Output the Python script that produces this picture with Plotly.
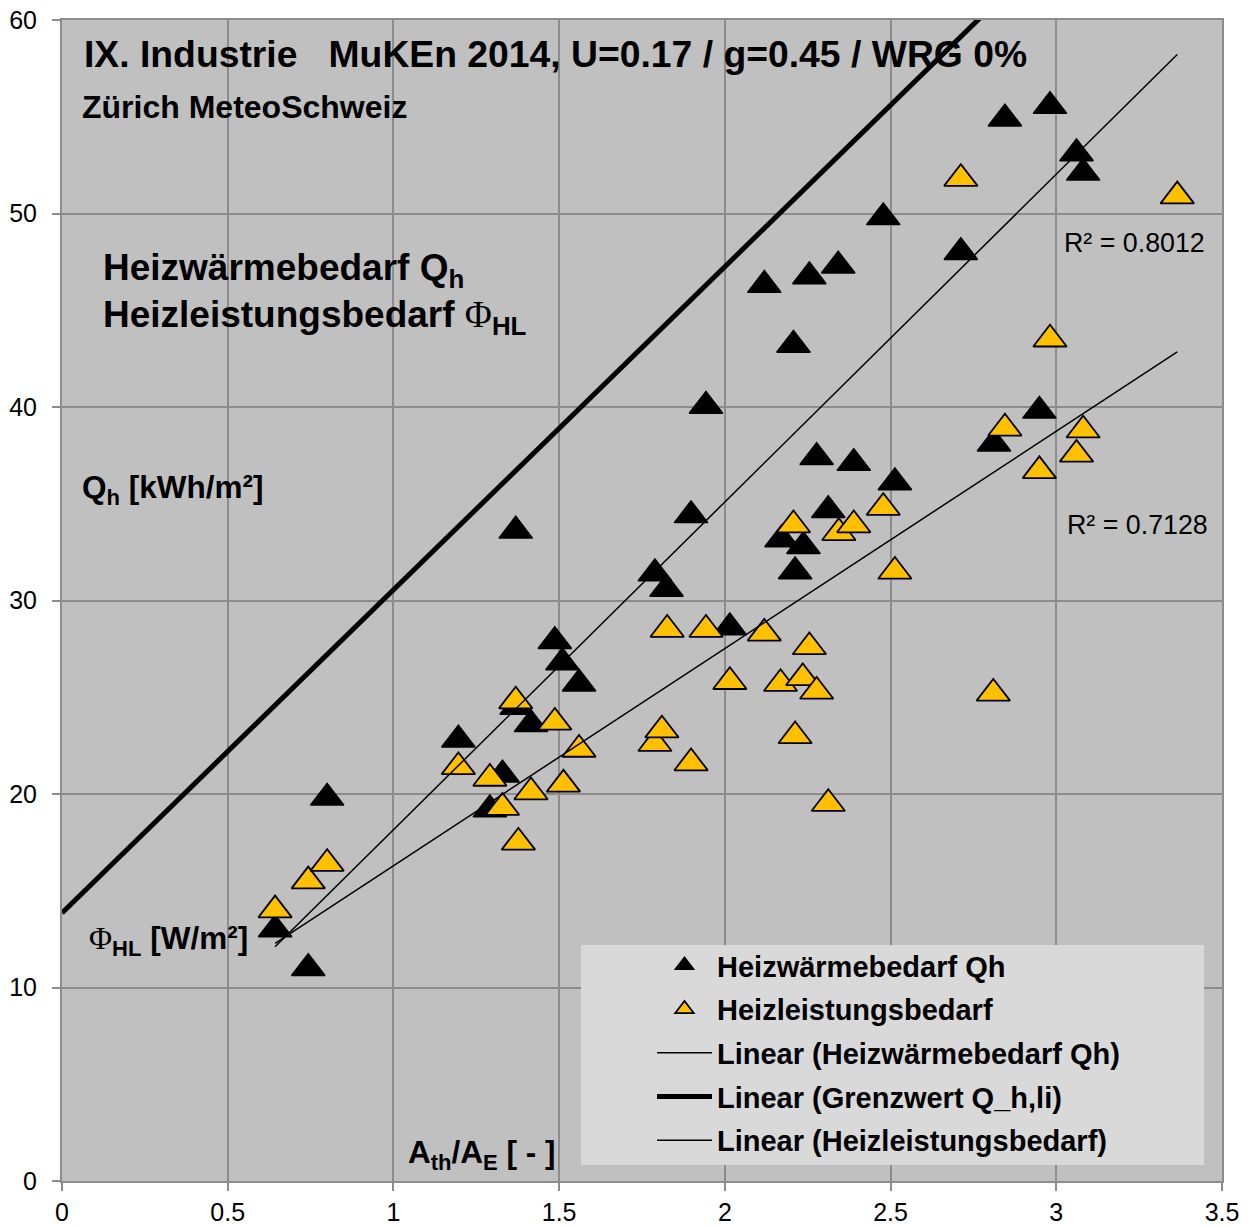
import numpy as np
import plotly.graph_objects as go

# ---- data ----
qh_x = [0.643, 0.743, 0.80, 1.196, 1.291, 1.329, 1.369, 1.372, 1.415, 1.487, 1.51, 1.56,
        1.789, 1.824, 1.898, 1.943, 2.015, 2.119, 2.171, 2.207, 2.212, 2.237, 2.255, 2.277,
        2.312, 2.342, 2.389, 2.478, 2.513, 2.712, 2.812, 2.845, 2.949, 2.981, 3.061, 3.081]
qh_y = [13.0, 11.0, 19.8, 22.8, 19.2, 21.0, 33.6, 24.5, 23.6, 27.9, 26.8, 25.7,
        31.4, 30.6, 34.4, 40.05, 28.6, 46.3, 33.15, 43.2, 31.5, 32.8, 46.75, 37.4,
        34.66, 47.3, 37.1, 49.8, 36.1, 48.0, 38.1, 54.9, 39.8, 55.55, 53.1, 52.1]

hl_x = [0.643, 0.743, 0.80, 1.196, 1.291, 1.329, 1.369, 1.377, 1.415, 1.487, 1.513, 1.56,
        1.789, 1.81, 1.826, 1.898, 1.943, 2.015, 2.119, 2.168, 2.207, 2.212, 2.235, 2.255,
        2.277, 2.312, 2.344, 2.389, 2.478, 2.513, 2.712, 2.81, 2.845, 2.949, 2.981, 3.061,
        3.081, 3.365]
hl_y = [14.0, 15.5, 16.4, 21.4, 20.8, 19.3, 24.8, 17.5, 20.1, 23.7, 20.5, 22.3,
        22.6, 23.3, 28.5, 21.6, 28.5, 25.8, 28.3, 25.7, 33.9, 23.0, 26.0, 27.6,
        25.3, 19.5, 33.5, 33.9, 34.8, 31.5, 51.8, 25.2, 38.9, 36.7, 43.5, 37.55,
        38.8, 50.9]

# linear trend coefficients (slope, intercept)
qh_fit = [16.94, 1.21]
hl_fit = [11.23, 5.06]
grenz_fit = [16.7, 13.85]
trend_x = [0.643, 3.365]
grenz_x = [0.0, 3.5]

x_ticks = [0, 0.5, 1, 1.5, 2, 2.5, 3, 3.5]
x_tick_labels = ["0", "0.5", "1", "1.5", "2", "2.5", "3", "3.5"]
y_ticks = [0, 10, 20, 30, 40, 50, 60]

r2_qh = "R² = 0.8012"
r2_hl = "R² = 0.7128"

FONT = "Arial, Liberation Sans, sans-serif"
W, H = 1248, 1227
L, R, T, B = 62, 26, 20, 46
PW, PH = W - L - R, H - T - B


def px(xp):
    return (xp - L) / PW


def py(yp):
    return (H - B - yp) / PH


def line_of(fit, xs):
    xs = np.array(xs, dtype=float)
    return xs, fit[0] * xs + fit[1]


PHI = '<span style="font-family:Liberation Serif, Times New Roman, serif;font-weight:normal">Φ</span>'

fig = go.Figure()

fig.add_trace(go.Scatter(
    x=qh_x, y=qh_y, mode="markers", name="Heizwärmebedarf Qh", legendgroup="a",
    marker=dict(symbol="triangle-up", size=29, color="black",
                line=dict(color="black", width=1.5)),
))
fig.add_trace(go.Scatter(
    x=hl_x, y=hl_y, mode="markers", name="Heizleistungsbedarf", legendgroup="b",
    marker=dict(symbol="triangle-up", size=29, color="#FFC000",
                line=dict(color="black", width=1.8)),
))
lx, ly = line_of(qh_fit, trend_x)
fig.add_trace(go.Scatter(x=lx, y=ly, mode="lines", name="Linear (Heizwärmebedarf Qh)",
                         legendgroup="c", line=dict(color="black", width=1.5)))
lx, ly = line_of(grenz_fit, grenz_x)
fig.add_trace(go.Scatter(x=lx, y=ly, mode="lines", name="Linear (Grenzwert Q_h,li)",
                         legendgroup="d", line=dict(color="black", width=5)))
lx, ly = line_of(hl_fit, trend_x)
fig.add_trace(go.Scatter(x=lx, y=ly, mode="lines", name="Linear (Heizleistungsbedarf)",
                         legendgroup="e", line=dict(color="black", width=1.5)))

for tr in fig.data:
    tr.name = f"<b>{tr.name}</b>"

grid = "#8C8C8C"
axis_common = dict(showgrid=True, gridcolor=grid, gridwidth=2,
                   showline=True, linecolor=grid, linewidth=2, mirror=True,
                   ticks="outside", ticklen=8, tickcolor=grid, tickwidth=2,
                   tickfont=dict(family=FONT, size=25, color="black"),
                   zeroline=False, automargin=False)
fig.update_xaxes(range=[0, 3.5], tickvals=x_ticks, ticktext=x_tick_labels,
                 ticklabelstandoff=0, **axis_common)
fig.update_yaxes(range=[0, 60], tickvals=y_ticks, ticklabelstandoff=10, **axis_common)


def ann(text, xp, yp, size, bold=True):
    t = f"<b>{text}</b>" if bold else text
    return dict(text=t, x=px(xp), y=py(yp), xref="paper", yref="paper",
                xanchor="left", yanchor="middle", showarrow=False,
                font=dict(family=FONT, size=size, color="black"))


annotations = [
    ann("IX. Industrie&nbsp;&nbsp;&nbsp;MuKEn 2014, U=0.17 / g=0.45 / WRG 0%", 82, 54, 37.3),
    ann("Zürich MeteoSchweiz", 80, 107, 32),
    ann("Heizwärmebedarf Q<sub>h</sub>", 101, 270, 37),
    ann("Heizleistungsbedarf " + PHI + "<sub>HL</sub>", 101, 317, 37),
    ann("Q<sub>h</sub> [kWh/m²]", 80, 490, 31.5),
    ann(PHI + "<sub>HL</sub> [W/m²]", 87, 940, 31.5),
    ann("A<sub>th</sub>/A<sub>E</sub> [ - ]", 406, 1154, 31.5),
    ann(r2_qh, 1062, 243, 26.8, bold=False),
    ann(r2_hl, 1065, 525, 26.8, bold=False),
]

shapes = [dict(type="rect", xref="paper", yref="paper",
               x0=px(581), x1=px(1204), y0=py(1165), y1=py(945),
               fillcolor="#D9D9D9", line=dict(width=0), layer="above")]

fig.update_layout(
    width=W, height=H,
    margin=dict(l=L, r=R, t=T, b=B),
    paper_bgcolor="white", plot_bgcolor="#C0C0C0",
    font=dict(family=FONT, color="black"),
    annotations=annotations, shapes=shapes,
    legend=dict(x=px(652), y=py(940), xanchor="left", yanchor="top",
                bgcolor="rgba(0,0,0,0)", borderwidth=0,
                font=dict(family=FONT, size=29, color="black"),
                itemwidth=55, tracegroupgap=3),
    showlegend=True,
)

fig.write_html("out.html", config={"displayModeBar": False},
               post_script="document.body.style.margin='0';")
